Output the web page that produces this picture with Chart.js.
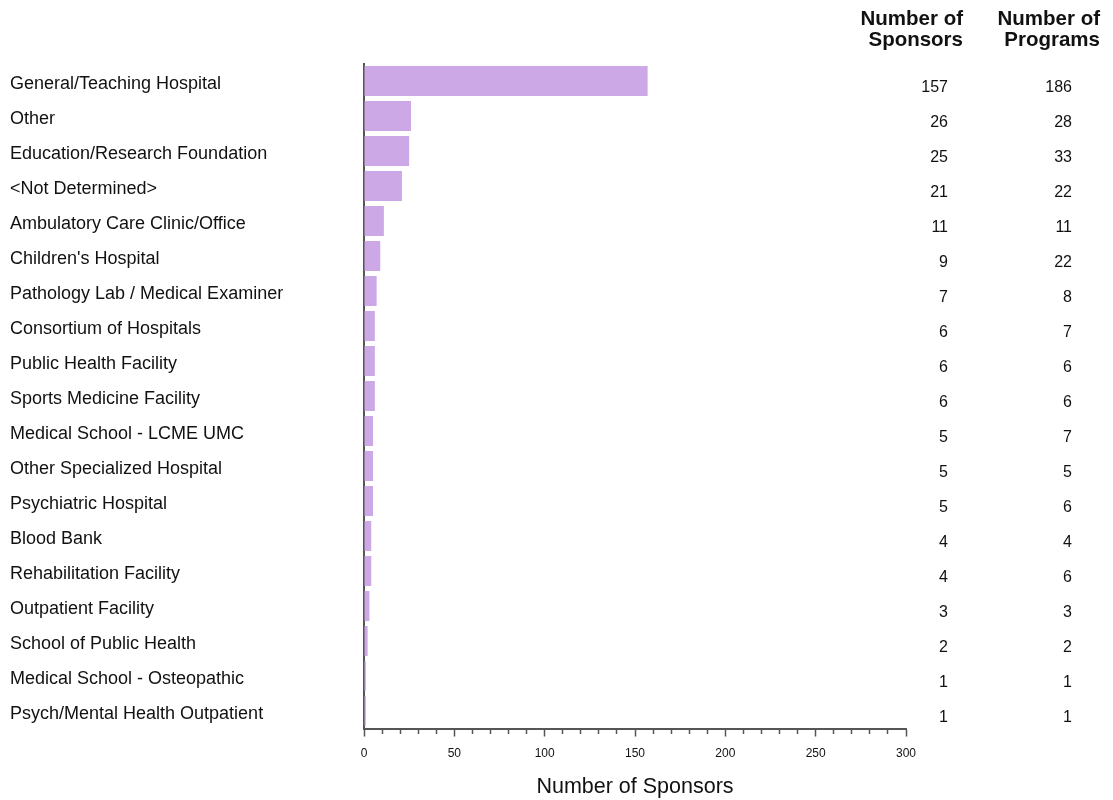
<!DOCTYPE html>
<html>
<head>
<meta charset="utf-8">
<script src="https://cdn.jsdelivr.net/npm/chart.js@4/dist/chart.umd.min.js"></script>
<style>
  html, body { margin: 0; padding: 0; background: #fff; }
  #chart_box { width: 1113px; height: 800px; }
</style>
</head>
<body>
<div id="chart_box"><canvas id="sponsors_canvas"></canvas></div>
<script>
const sponsor_types = [
  'General/Teaching Hospital',
  'Other',
  'Education/Research Foundation',
  '<Not Determined>',
  'Ambulatory Care Clinic/Office',
  "Children's Hospital",
  'Pathology Lab / Medical Examiner',
  'Consortium of Hospitals',
  'Public Health Facility',
  'Sports Medicine Facility',
  'Medical School - LCME UMC',
  'Other Specialized Hospital',
  'Psychiatric Hospital',
  'Blood Bank',
  'Rehabilitation Facility',
  'Outpatient Facility',
  'School of Public Health',
  'Medical School - Osteopathic',
  'Psych/Mental Health Outpatient'
];
const sponsor_counts = [157, 26, 25, 21, 11, 9, 7, 6, 6, 6, 5, 5, 5, 4, 4, 3, 2, 1, 1];
const program_counts = [186, 28, 33, 22, 11, 22, 8, 7, 6, 6, 7, 5, 6, 4, 6, 3, 2, 1, 1];
const x_max = 300;

const FONT = '"Liberation Sans", Arial, Helvetica, sans-serif';
const AXIS_GREY = '#555555';
const TEXT = '#111111';

/**
 * Draws the two bold column headers above the right hand number columns.
 */
const column_headers = {
  id: 'column_headers',
  afterDraw(chart) {
    const ctx = chart.ctx;
    const sponsors_axis = chart.scales.y2;
    const programs_axis = chart.scales.y3;
    ctx.save();
    ctx.fillStyle = TEXT;
    ctx.font = 'bold 20.5px ' + FONT;
    ctx.textAlign = 'right';
    ctx.textBaseline = 'middle';
    const headers = [
      [sponsors_axis.right + 15, ['Number of', 'Sponsors']],
      [programs_axis.right + 28, ['Number of', 'Programs']]
    ];
    for (const [x, lines] of headers) {
      ctx.fillText(lines[0], x, 19.5);
      ctx.fillText(lines[1], x, 40.5);
    }
    ctx.restore();
  }
};

function fixed_width(w) {
  return (scale) => { scale.width = w; };
}

new Chart(document.getElementById('sponsors_canvas'), {
  type: 'bar',
  data: {
    labels: sponsor_types,
    datasets: [{
      data: sponsor_counts,
      backgroundColor: '#cda8e6',
      borderWidth: 0,
      categoryPercentage: 1.0,
      barPercentage: 0.86
    }]
  },
  options: {
    indexAxis: 'y',
    responsive: true,
    maintainAspectRatio: false,
    animation: false,
    layout: { padding: { left: 10, right: 41, top: 63.5, bottom: 0 } },
    plugins: {
      legend: { display: false },
      tooltip: { enabled: false }
    },
    scales: {
      x: {
        type: 'linear',
        position: 'bottom',
        min: 0,
        max: x_max,
        afterFit: (scale) => { scale.height = 71.5; },
        border: { display: true, color: AXIS_GREY, width: 2 },
        grid: {
          drawOnChartArea: false,
          drawTicks: true,
          tickLength: 8,
          tickColor: AXIS_GREY,
          tickWidth: 1.5,
          // minor ticks every 10 are half as long as the labelled ones
          tickBorderDash: (ctx) => (ctx.tick && ctx.tick.value % 50 !== 0) ? [4, 100] : []
        },
        ticks: {
          stepSize: 10,
          autoSkip: false,
          maxRotation: 0,
          padding: 10,
          color: TEXT,
          font: { family: FONT, size: 12 },
          callback: (v) => (v % 50 === 0 ? String(v) : '')
        },
        title: {
          display: true,
          text: 'Number of Sponsors',
          color: TEXT,
          font: { family: FONT, size: 21.5 },
          padding: { top: 0, bottom: 0 }
        }
      },
      y: {
        type: 'category',
        position: 'left',
        afterFit: fixed_width(354),
        border: { display: true, color: AXIS_GREY, width: 2 },
        grid: { drawOnChartArea: false, drawTicks: false },
        ticks: {
          crossAlign: 'far',
          autoSkip: false,
          labelOffset: 3,
          color: TEXT,
          font: { family: FONT, size: 18 }
        }
      },
      y2: {
        type: 'category',
        position: 'right',
        offset: true,
        weight: 1,
        afterFit: fixed_width(42),
        border: { display: false },
        grid: { display: false },
        ticks: {
          crossAlign: 'far',
          autoSkip: false,
          labelOffset: 7,
          color: TEXT,
          font: { family: FONT, size: 16 },
          callback: (v, i) => String(sponsor_counts[i])
        }
      },
      y3: {
        type: 'category',
        position: 'right',
        offset: true,
        weight: 2,
        afterFit: fixed_width(124),
        border: { display: false },
        grid: { display: false },
        ticks: {
          crossAlign: 'far',
          autoSkip: false,
          labelOffset: 7,
          color: TEXT,
          font: { family: FONT, size: 16 },
          callback: (v, i) => String(program_counts[i])
        }
      }
    }
  },
  plugins: [column_headers]
});
</script>
</body>
</html>
